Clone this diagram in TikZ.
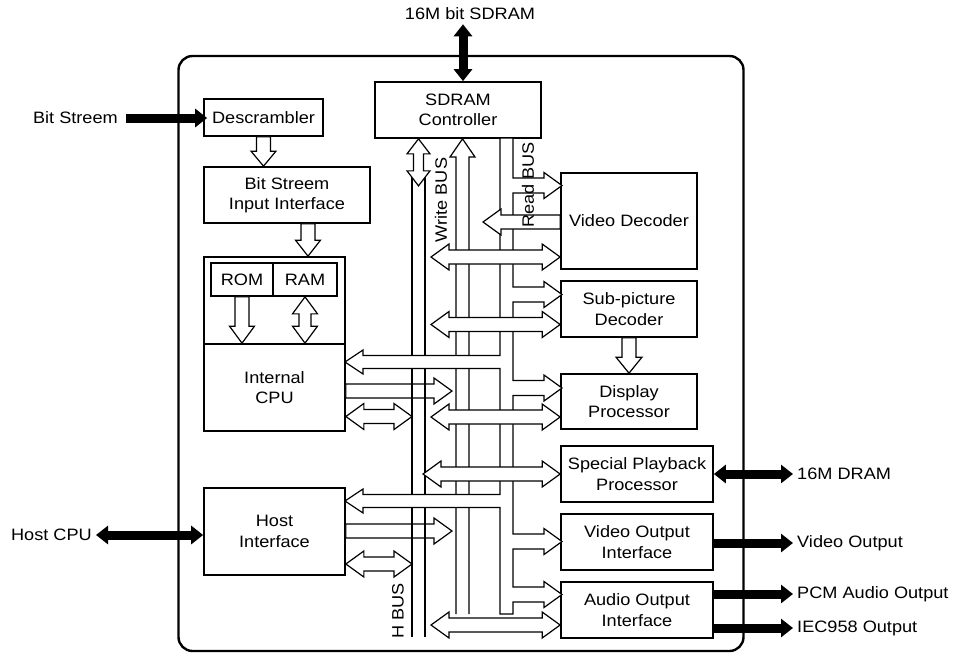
\documentclass[tikz,border=0pt]{standalone}
\usepackage{fontspec}
\setmainfont{Liberation Sans}[FakeStretch=1.1]
\usetikzlibrary{arrows.meta,calc}
\newcommand{\blkfont}{\fontsize{16.5}{20.5}\selectfont}
\tikzset{
  blk/.style={draw, rectangle, line width=1.7pt, fill=white, align=center, inner sep=0pt, font=\blkfont},
  txt/.style={font=\blkfont, inner sep=4pt},
  bus/.style={line width=1.2pt, line join=miter},
  arr s/.store in=\arrS, arr w/.store in=\arrW, arr h/.store in=\arrH,
  arr s=7pt, arr w=13pt, arr h=18pt,
  hollow/.style={draw, line width=1.2pt, fill=white, line join=miter},
  openarr/.style={hollow, to path={
      let \p1=(\tikztostart), \p2=(\tikztotarget),
          \n1={veclen(\x2-(\x1),\y2-(\y1))}, \n2={atan2(\y2-(\y1),\x2-(\x1))} in
      {[shift={(\p1)}, rotate=\n2]
        (0pt,-\arrS) -- (\n1-\arrH,-\arrS) -- (\n1-\arrH,-\arrW) -- (\n1+0pt,0pt)
        -- (\n1-\arrH,\arrW) -- (\n1-\arrH,\arrS) -- (0pt,\arrS) -- cycle}}},
  dblarr/.style={hollow, to path={
      let \p1=(\tikztostart), \p2=(\tikztotarget),
          \n1={veclen(\x2-(\x1),\y2-(\y1))}, \n2={atan2(\y2-(\y1),\x2-(\x1))} in
      {[shift={(\p1)}, rotate=\n2]
        (0pt,0pt) -- (\arrH,\arrW) -- (\arrH,\arrS) -- (\n1-\arrH,\arrS) -- (\n1-\arrH,\arrW)
        -- (\n1+0pt,0pt) -- (\n1-\arrH,-\arrW) -- (\n1-\arrH,-\arrS) -- (\arrH,-\arrS)
        -- (\arrH,-\arrW) -- cycle}}},
  thickarr/.style={line width=9pt, -{Triangle[length=12pt,width=18pt]}},
  thickdarr/.style={line width=9pt, {Triangle[length=12pt,width=18pt]}-{Triangle[length=12pt,width=18pt]}},
}
\begin{document}
\begin{tikzpicture}[x=1pt, y=-1pt]
\useasboundingbox (0,0) rectangle (955,657);

\node[draw, line width=2.4pt, rounded corners=14pt, minimum width=565pt, minimum height=595pt] (chip) at (461,353.5) {};

\node[blk, minimum width=166pt, minimum height=56pt] (sdram) at (458,110) {SDRAM\\Controller};
\node[blk, minimum width=119pt, minimum height=37pt] (desc) at (263.5,117.5) {Descrambler};
\node[blk, minimum width=166pt, minimum height=56pt] (bsii) at (287,195) {Bit Streem\\Input Interface};
\node[blk, minimum width=141pt, minimum height=87pt] (mem) at (274.5,300.5) {};
\node[blk, minimum width=141pt, minimum height=87pt] (cpu) at (274.5,387.5) {Internal\\CPU};
\node[blk, minimum width=62pt, minimum height=33pt] (rom) at (242,279.5) {ROM};
\node[blk, minimum width=64pt, minimum height=33pt] (ram) at (305,279.5) {RAM};
\node[blk, minimum width=141pt, minimum height=87pt] (host) at (274.5,531.5) {Host\\Interface};
\node[blk, minimum width=136pt, minimum height=96pt] (vd) at (629,221) {Video Decoder};
\node[blk, minimum width=136pt, minimum height=56pt] (spd) at (629,309) {Sub-picture\\Decoder};
\node[blk, minimum width=136pt, minimum height=55pt] (dp) at (629,401.5) {Display\\Processor};
\node[blk, minimum width=152pt, minimum height=56pt] (spp) at (637,474) {Special Playback\\Processor};
\node[blk, minimum width=152pt, minimum height=56pt] (voi) at (637,542) {Video Output\\Interface};
\node[blk, minimum width=152pt, minimum height=56pt] (aoi) at (637,610) {Audio Output\\Interface};

\node[txt] (sdtxt) at (470,14) {16M bit SDRAM};
\node[txt, anchor=east] (bstxt) at (122,118) {Bit Streem};
\node[txt, anchor=east] (hctxt) at (96,535) {Host CPU};
\node[txt, anchor=west] (dramtxt) at (793,474) {16M DRAM};
\node[txt, anchor=west] (votxt) at (793,543) {Video Output};
\node[txt, anchor=west] (pcmtxt) at (793,594) {PCM Audio Output};
\node[txt, anchor=west] (iectxt) at (793,628) {IEC958 Output};

% left column
\draw[openarr, arr w=12.5pt, arr h=15pt] (desc.south) to (desc.south |- bsii.north);
\draw[openarr, arr w=12.5pt, arr h=16pt] ([xshift=21pt]bsii.south) to ([xshift=21pt]bsii.south |- mem.north);
\draw[openarr, arr w=12.5pt, arr h=17pt] (rom.south) to (rom.south |- cpu.north);
\draw[dblarr, arr s=6pt, arr w=12.5pt, arr h=17pt] (ram.south) to (ram.south |- cpu.north);
\draw[openarr] (cpu.east |- 0,391) to (452,391);
\draw[openarr] (host.east |- 0,531) to (452,531);
\draw[dblarr] (cpu.east |- 0,416.5) to (412,416.5);
\draw[dblarr] (host.east |- 0,564) to (412,564);

% H BUS and Write BUS
\coordinate (wtip) at ([xshift=4.5pt]sdram.south);
\draw[bus] (412,172) -- (412,637) (425,172) -- (425,637);
\draw[bus] (456,614) -- (456,157) -- (450,157) -- (wtip) -- (475,157) -- (469,157) -- (469,614);
\draw[dblarr, arr s=5pt, arr w=11.5pt, arr h=15pt] ([xshift=-39.5pt]sdram.south) to ++(0,47);

% Read BUS
\draw[bus, fill=white] (500,138) -- (513,138)
  foreach \c in {185.5,294.5,388,541.5,594.5} {
    -- (513,\c-7.5) -- (544,\c-7.5) -- (544,\c-13) -- (562,\c)
    -- (544,\c+13) -- (544,\c+7.5) -- (513,\c+7.5) }
  -- (513,614) -- (500,614)
  foreach \c in {501,362} {
    -- (500,\c+6.5) -- (363,\c+6.5) -- (363,\c+12) -- (345,\c)
    -- (363,\c-12) -- (363,\c-6.5) -- (500,\c-6.5) }
  -- cycle;

% right column
\draw[dblarr] (431,257) to (vd.west |- 0,257);
\draw[dblarr] (431,324.5) to (spd.west |- 0,324.5);
\draw[dblarr] (431,417) to (dp.west |- 0,417);
\draw[dblarr] (423,474) to (spp.west);
\draw[dblarr] (431,625) to (aoi.west |- 0,625);
\draw[openarr] (vd.west |- 0,222) to (483,222);
\draw[openarr, arr w=13pt, arr h=16pt] (spd.south) to (dp.north);

\node[txt, rotate=90] (wlbl) at (441,200) {Write BUS};
\node[txt, rotate=90] (rlbl) at (528,185) {Read BUS};
\node[txt, rotate=90] (hlbl) at (398,611) {H BUS};

% external
\draw[thickdarr] ([xshift=5pt]sdram.north) -- ([xshift=5pt]sdram.north |- sdtxt.south);
\draw[thickarr] ([xshift=4pt]bstxt.east) -- ([xshift=4pt]bstxt.east -| desc.west);
\draw[thickdarr] (host.west |- hctxt) -- (hctxt.east);
\draw[thickdarr] (spp.east) -- (spp.east -| dramtxt.west);
\draw[thickarr] (voi.east |- votxt) -- (votxt.west);
\draw[thickarr] (aoi.east |- pcmtxt) -- (pcmtxt.west);
\draw[thickarr] (aoi.east |- iectxt) -- (iectxt.west);

\end{tikzpicture}
\end{document}
